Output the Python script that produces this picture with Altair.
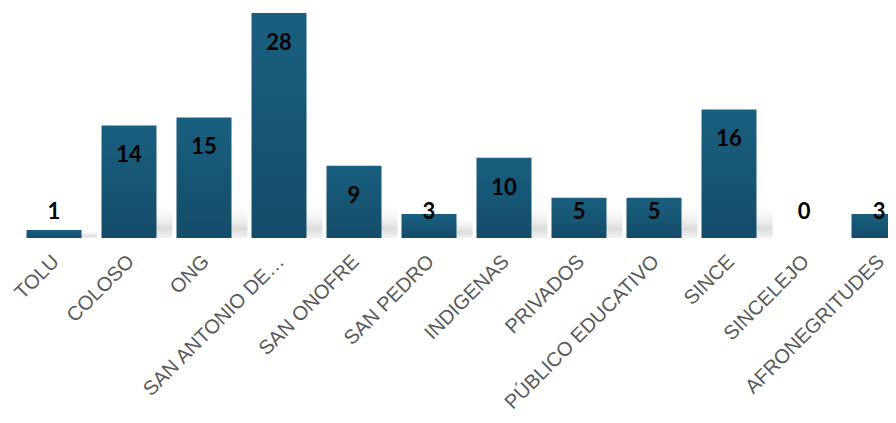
import altair as alt
import pandas as pd

categories = ["TOLU", "COLOSO", "ONG", "SAN ANTONIO DE…", "SAN ONOFRE", "SAN PEDRO",
              "INDIGENAS", "PRIVADOS", "PÚBLICO EDUCATIVO", "SINCE", "SINCELEJO", "AFRONEGRITUDES"]
values = [1, 14, 15, 28, 9, 3, 10, 5, 5, 16, 0, 3]

df = pd.DataFrame({"cat": categories, "v": values})

xscale = alt.Scale(range=[0, 900], paddingInner=0.2667, paddingOuter=0.1333)
yscale = alt.Scale(domain=[0, 28], nice=False, zero=True)

xenc = alt.X("cat:N", sort=categories, scale=xscale,
             axis=alt.Axis(title=None, labelAngle=-45, domain=False, ticks=False, grid=False,
                           labelFontSize=20, labelColor="#595959", labelFont="Liberation Sans",
                           labelPadding=13, labelOffset=-5, labelOverlap=False, labelBound=False,
                           labelLimit=0))

base = alt.Chart(df)

shadow = base.mark_bar(
    xOffset=16,
    fill=alt.Gradient(gradient="linear", x1=0, x2=0, y1=0, y2=1,
                      stops=[alt.GradientStop(color="rgba(255,255,255,0)", offset=0),
                             alt.GradientStop(color="rgba(185,185,185,0.5)", offset=0.75),
                             alt.GradientStop(color="rgba(215,215,215,0.35)", offset=1)])
).transform_calculate(sh="min(datum.v, 4.5)").encode(
    x=xenc,
    y=alt.Y("sh:Q", scale=yscale, axis=None),
)

bars = base.mark_bar(
    fill=alt.Gradient(gradient="linear", x1=0, x2=0, y1=0, y2=1,
                      stops=[alt.GradientStop(color="#1a5f80", offset=0),
                             alt.GradientStop(color="#134c69", offset=1)])
).encode(
    x=xenc,
    y=alt.Y("v:Q", scale=yscale, axis=None),
)

labels = base.mark_text(
    font="Lato", fontWeight="bold", fontSize=22, color="#000000", baseline="middle", align="center"
).transform_calculate(ly="max(datum.v - 3.73, 3.23)").encode(
    x=xenc,
    y=alt.Y("ly:Q", scale=yscale, axis=None),
    text=alt.Text("v:Q"),
)

chart = alt.layer(shadow, bars, labels).properties(
    width=871.5, height=225,
    autosize=alt.AutoSizeParams(type="none"),
    padding={"left": 8.5, "top": 5, "right": 0, "bottom": 177},
).configure_view(stroke=None)

chart.save("out.html", embed_options={"renderer": "svg", "actions": False})
